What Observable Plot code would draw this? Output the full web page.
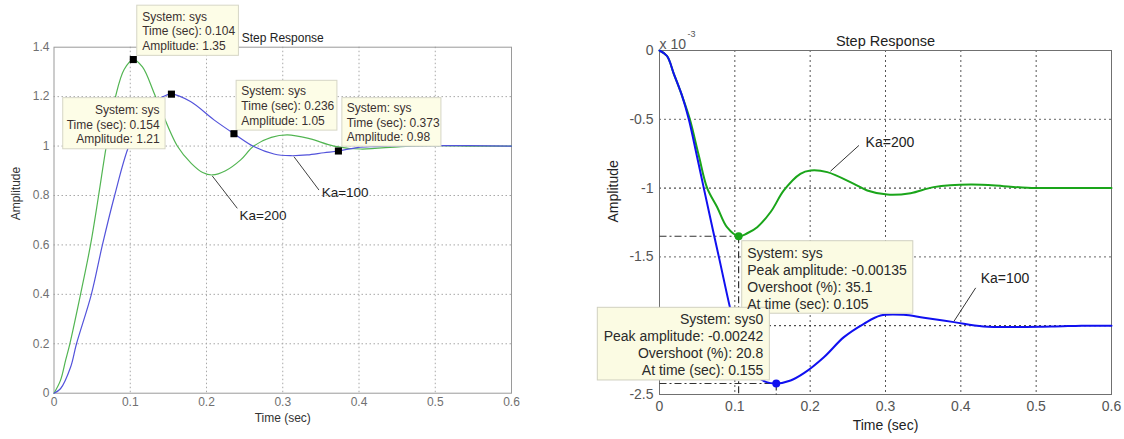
<!DOCTYPE html>
<html><head><meta charset="utf-8">
<script src="https://cdn.jsdelivr.net/npm/d3@7"></script>
<script src="https://cdn.jsdelivr.net/npm/@observablehq/plot@0.6"></script>
<style>
body{margin:0;background:#fff;}
#wrap{position:relative;width:1124px;height:439px;overflow:hidden;background:#fff;}
#left{position:absolute;left:0;top:0;}
#right{position:absolute;left:560px;top:0;}
svg{overflow:visible;}
</style></head><body><div id="wrap"><div id="left"></div><div id="right"></div></div>
<script>
const FONT = '"Liberation Sans", Arial, Helvetica, sans-serif';

// ---------- LEFT CHART DATA ----------
const leftXTicks = [0, 0.1, 0.2, 0.3, 0.4, 0.5, 0.6];
const leftYTicks = [0, 0.2, 0.4, 0.6, 0.8, 1, 1.2, 1.4];
// Ka = 200 (green)
const leftGreenT = [0, 0.0085, 0.0151, 0.0208, 0.0348, 0.0479, 0.0585, 0.0686, 0.0807, 0.092, 0.104, 0.116, 0.1332, 0.1617, 0.18, 0.195, 0.2076, 0.225, 0.2448, 0.262, 0.285, 0.306, 0.335, 0.367, 0.402, 0.455, 0.5, 0.55, 0.6];
const leftGreenV = [0, 0.052, 0.132, 0.2, 0.4, 0.6, 0.8, 1.0, 1.2, 1.31, 1.35, 1.32, 1.2, 1.0, 0.93, 0.893, 0.883, 0.9, 0.944, 1.0, 1.035, 1.045, 1.03, 1.0, 0.988, 0.998, 1.002, 1.0, 1.0];
// Ka = 100 (blue)
const leftBlueT = [0, 0.0085, 0.0217, 0.0295, 0.049, 0.0635, 0.0795, 0.0982, 0.115, 0.13, 0.143, 0.154, 0.179, 0.2098, 0.236, 0.262, 0.2885, 0.31, 0.332, 0.354, 0.373, 0.398, 0.42, 0.45, 0.5, 0.6];
const leftBlueV = [0, 0.018, 0.105, 0.2, 0.4, 0.6, 0.8, 1.0, 1.1, 1.17, 1.2, 1.21, 1.18, 1.106, 1.05, 0.998, 0.968, 0.961, 0.964, 0.973, 0.98, 0.994, 0.998, 1.001, 1.002, 1.0];
// data tips
const leftTipT = [0.104, 0.154, 0.236, 0.373];
const leftTipV = [1.35, 1.21, 1.05, 0.98];
const leftTipText = [
  "System: sys\nTime (sec): 0.104\nAmplitude: 1.35",
  "System: sys\nTime (sec): 0.154\nAmplitude: 1.21",
  "System: sys\nTime (sec): 0.236\nAmplitude: 1.05",
  "System: sys\nTime (sec): 0.373\nAmplitude: 0.98"
];
const leftTipAlign = ["start", "end", "start", "start"];
const leftBoxT1 = [0.1092, 0.0121, 0.2395, 0.3782];
const leftBoxT2 = [0.2425, 0.1463, 0.3717, 0.5081];
const leftBoxV1 = [1.568, 1.1938, 1.264, 1.1938];
const leftBoxV2 = [1.365, 0.987, 1.0625, 0.9976];
const leftTextT = [0.1157, 0.1385, 0.2457, 0.3839];
const leftTextV = [1.4667, 1.0896, 1.1655, 1.0977];
// Ka labels
const leftKaText = ["Ka=200", "Ka=100"];
const leftKaFromT = [0.2076, 0.3147];
const leftKaFromV = [0.879, 0.957];
const leftKaToT = [0.2404, 0.3475];
const leftKaToV = [0.748, 0.822];
const leftKaLabT = [0.2434, 0.351];
const leftKaLabV = [0.719, 0.811];

// ---------- RIGHT CHART DATA (amplitude in units of 1e-3) ----------
const rightXTicks = [0, 0.1, 0.2, 0.3, 0.4, 0.5, 0.6];
const rightYTicks = [0, -0.5, -1, -1.5, -2, -2.5];
const rightYTickLabels = [0, -0.5, -1, -1.5, -2.5]; // the -2 label is hidden behind a data tip in the original
const rightGreenT = [0, 0.01, 0.019, 0.03, 0.0403, 0.052, 0.0633, 0.0766, 0.0896, 0.105, 0.1165, 0.1297, 0.148, 0.165, 0.187, 0.2005, 0.2227, 0.258, 0.2758, 0.3024, 0.3333, 0.3639, 0.413, 0.4568, 0.4883, 0.55, 0.6];
const rightGreenV = [0, -0.04, -0.17, -0.33, -0.5, -0.76, -1.0, -1.139, -1.284, -1.35, -1.328, -1.284, -1.17, -1.017, -0.896, -0.872, -0.884, -0.969, -1.017, -1.047, -1.037, -0.993, -0.974, -0.986, -0.998, -1.0, -1.0];
const rightBlueT = [0, 0.01, 0.019, 0.03, 0.0389, 0.049, 0.0588, 0.0788, 0.0996, 0.115, 0.13, 0.142, 0.155, 0.174, 0.1917, 0.2182, 0.2448, 0.2713, 0.2935, 0.324, 0.351, 0.391, 0.43, 0.52, 0.56, 0.6];
const rightBlueV = [0, -0.04, -0.17, -0.33, -0.5, -0.75, -1.0, -1.5, -2.0, -2.25, -2.37, -2.41, -2.42, -2.398, -2.345, -2.229, -2.083, -1.986, -1.926, -1.921, -1.943, -1.974, -2.006, -2.006, -2.0, -2.0];
const rightSteady = [-1, -2];
const rightPeakT = [0.105, 0.155];
const rightPeakV = [-1.35, -2.42];
const rightPeakColor = ["#1aa51a", "#1010f0"];
const rightTipText = [
  "System: sys\nPeak amplitude: -0.00135\nOvershoot (%): 35.1\nAt time (sec): 0.105",
  "System: sys0\nPeak amplitude: -0.00242\nOvershoot (%): 20.8\nAt time (sec): 0.155"
];
const rightTipAlign = ["start", "end"];
const rightBoxT1 = [0.1098, -0.0819];
const rightBoxT2 = [0.3369, 0.1465];
const rightBoxV1 = [-1.386, -1.870];
const rightBoxV2 = [-1.913, -2.398];
const rightTextT = [0.1165, 0.1377];
const rightTextV = [-1.651, -2.1315];
const rightKaText = ["Ka=200", "Ka=100"];
const rightKaFromT = [0.227, 0.391];
const rightKaFromV = [-0.877, -1.967];
const rightKaToT = [0.2647, 0.4197];
const rightKaToV = [-0.690, -1.725];
const rightKaLabT = [0.2736, 0.4263];
const rightKaLabV = [-0.671, -1.659];

// ---------- build tables ----------
const zipTV = (T, V) => T.map((t, i) => ({t, v: V[i]}));
const leftGreen = zipTV(leftGreenT, leftGreenV);
const leftBlue = zipTV(leftBlueT, leftBlueV);
const leftTips = leftTipT.map((t, i) => ({t, v: leftTipV[i], text: leftTipText[i], align: leftTipAlign[i],
  x1: leftBoxT1[i], x2: leftBoxT2[i], y1: leftBoxV1[i], y2: leftBoxV2[i], tx: leftTextT[i], ty: leftTextV[i]}));
const leftKa = leftKaText.map((s, i) => ({s, x1: leftKaFromT[i], y1: leftKaFromV[i], x2: leftKaToT[i], y2: leftKaToV[i], lx: leftKaLabT[i], ly: leftKaLabV[i]}));

const rightGreen = zipTV(rightGreenT, rightGreenV);
const rightBlue = zipTV(rightBlueT, rightBlueV);
const rightTips = rightPeakT.map((t, i) => ({t, v: rightPeakV[i], c: rightPeakColor[i], text: rightTipText[i], align: rightTipAlign[i],
  x1: rightBoxT1[i], x2: rightBoxT2[i], y1: rightBoxV1[i], y2: rightBoxV2[i], tx: rightTextT[i], ty: rightTextV[i]}));
const rightKa = rightKaText.map((s, i) => ({s, x1: rightKaFromT[i], y1: rightKaFromV[i], x2: rightKaToT[i], y2: rightKaToV[i], lx: rightKaLabT[i], ly: rightKaLabV[i]}));

const fmt = d => String(d);

// ---------- LEFT PLOT ----------
const leftPlot = Plot.plot({
  width: 560, height: 439,
  marginLeft: 53.5, marginRight: 49, marginTop: 46.7, marginBottom: 46.3,
  style: {fontFamily: FONT, background: "transparent"},
  x: {domain: [0, 0.6], label: null},
  y: {domain: [0, 1.4], label: null},
  marks: [
    Plot.gridX(leftXTicks.slice(1, -1), {stroke: "#a8a8a8", strokeOpacity: 1, strokeDasharray: "1.5,2.5"}),
    Plot.gridY(leftYTicks.slice(1, -1), {stroke: "#a8a8a8", strokeOpacity: 1, strokeDasharray: "1.5,2.5"}),
    Plot.frame({stroke: "#9a9a9a"}),
    Plot.axisX(leftXTicks, {tickSize: 0, tickPadding: 4, fontSize: 12, fill: "#707070", tickFormat: fmt, label: null}),
    Plot.axisY(leftYTicks, {tickSize: 0, tickPadding: 4.5, fontSize: 12, fill: "#707070", tickFormat: fmt, label: null}),
    Plot.line(leftGreen, {x: "t", y: "v", stroke: "#52b552", strokeWidth: 1.2, curve: "catmull-rom"}),
    Plot.line(leftBlue, {x: "t", y: "v", stroke: "#5353db", strokeWidth: 1.2, curve: "catmull-rom"}),
    Plot.link(leftKa, {x1: "x1", y1: "y1", x2: "x2", y2: "y2", stroke: "#404040", strokeWidth: 1}),
    Plot.text(leftKa, {x: "lx", y: "ly", text: "s", textAnchor: "start", fontSize: 13.5, fill: "#1e1e1e"}),
    Plot.rect(leftTips, {x1: "x1", x2: "x2", y1: "y1", y2: "y2", fill: "#fdfde7", stroke: "#d6d6c6", strokeWidth: 1}),
    Plot.text(leftTips, {filter: d => d.align === "start", x: "tx", y: "ty", text: "text", textAnchor: "start", fontSize: 12, lineHeight: 1.23, fill: "#3a3030"}),
    Plot.text(leftTips, {filter: d => d.align === "end", x: "tx", y: "ty", text: "text", textAnchor: "end", fontSize: 12, lineHeight: 1.23, fill: "#3a3030"}),
    Plot.dot(leftTips, {x: "t", y: "v", symbol: "square", fill: "#000", r: 4}),
    Plot.text(["Step Response"], {text: d => d, frameAnchor: "top", dy: -13.4, fontSize: 12, fill: "#222"}),
    Plot.text(["Time (sec)"], {text: d => d, frameAnchor: "bottom", dy: 29, fontSize: 12, fill: "#333"}),
    Plot.text(["Amplitude"], {text: d => d, frameAnchor: "left", dx: -37.5, rotate: -90, fontSize: 12, fill: "#333"})
  ]
});
document.getElementById("left").appendChild(leftPlot);

// ---------- RIGHT PLOT ----------
const rightPlot = Plot.plot({
  width: 564, height: 439,
  marginLeft: 99, marginRight: 13, marginTop: 50, marginBottom: 45,
  style: {fontFamily: FONT, background: "transparent"},
  x: {domain: [0, 0.6], label: null},
  y: {domain: [-2.5, 0], label: null},
  marks: [
    Plot.gridX(rightXTicks.slice(1, -1), {stroke: "#555", strokeOpacity: 1, strokeDasharray: "2,3"}),
    Plot.gridY(rightYTicks.slice(1, -1).filter(d => !rightSteady.includes(d)), {stroke: "#666", strokeOpacity: 1, strokeDasharray: "2,3"}),
    Plot.gridY(rightSteady, {stroke: "#222", strokeOpacity: 1, strokeDasharray: "2,3"}),
    Plot.frame({stroke: "#707070"}),
    Plot.axisX(rightXTicks, {tickSize: 0, tickPadding: 7, fontSize: 14, fill: "#555", tickFormat: fmt, label: null}),
    Plot.axisY(rightYTickLabels, {tickSize: 0, tickPadding: 6, fontSize: 14, fill: "#555", tickFormat: fmt, label: null}),
    Plot.link(rightTips, {x1: 0, x2: "t", y1: "v", y2: "v", stroke: "#333", strokeWidth: 1.2, strokeDasharray: "7,3,2,3"}),
    Plot.link(rightTips, {x1: "t", x2: "t", y1: "v", y2: -2.5, stroke: "#333", strokeWidth: 1.2, strokeDasharray: "7,3,2,3"}),
    Plot.line(rightGreen, {x: "t", y: "v", stroke: "#1aa51a", strokeWidth: 2, curve: "catmull-rom"}),
    Plot.line(rightBlue, {x: "t", y: "v", stroke: "#1010f0", strokeWidth: 2, curve: "catmull-rom"}),
    Plot.link(rightKa, {x1: "x1", y1: "y1", x2: "x2", y2: "y2", stroke: "#333", strokeWidth: 1}),
    Plot.text(rightKa, {x: "lx", y: "ly", text: "s", textAnchor: "start", fontSize: 14, fill: "#222"}),
    Plot.dot(rightTips, {x: "t", y: "v", fill: "c", r: 4}),
    Plot.rect(rightTips, {x1: "x1", x2: "x2", y1: "y1", y2: "y2", fill: "#fbfbe3", stroke: "#d0d0c0", strokeWidth: 1}),
    Plot.text(rightTips, {filter: d => d.align === "start", x: "tx", y: "ty", text: "text", textAnchor: "start", fontSize: 14, lineHeight: 1.21, fill: "#2a2a2a"}),
    Plot.text(rightTips, {filter: d => d.align === "end", x: "tx", y: "ty", text: "text", textAnchor: "end", fontSize: 14, lineHeight: 1.21, fill: "#2a2a2a"}),
    Plot.text(["Step Response"], {text: d => d, frameAnchor: "top", dy: -15, fontSize: 14.5, fill: "#222"}),
    Plot.text(["x 10"], {text: d => d, frameAnchor: "top-left", dy: -11.7, textAnchor: "start", fontSize: 14, fill: "#555"}),
    Plot.text(["-3"], {text: d => d, frameAnchor: "top-left", dx: 28, dy: -20, textAnchor: "start", fontSize: 9, fill: "#555"}),
    Plot.text(["Time (sec)"], {text: d => d, frameAnchor: "bottom", dy: 35, fontSize: 14, fill: "#222"}),
    Plot.text(["Amplitude"], {text: d => d, frameAnchor: "left", dx: -46, rotate: -90, fontSize: 14, fill: "#222"})
  ]
});
document.getElementById("right").appendChild(rightPlot);
</script></body></html>
